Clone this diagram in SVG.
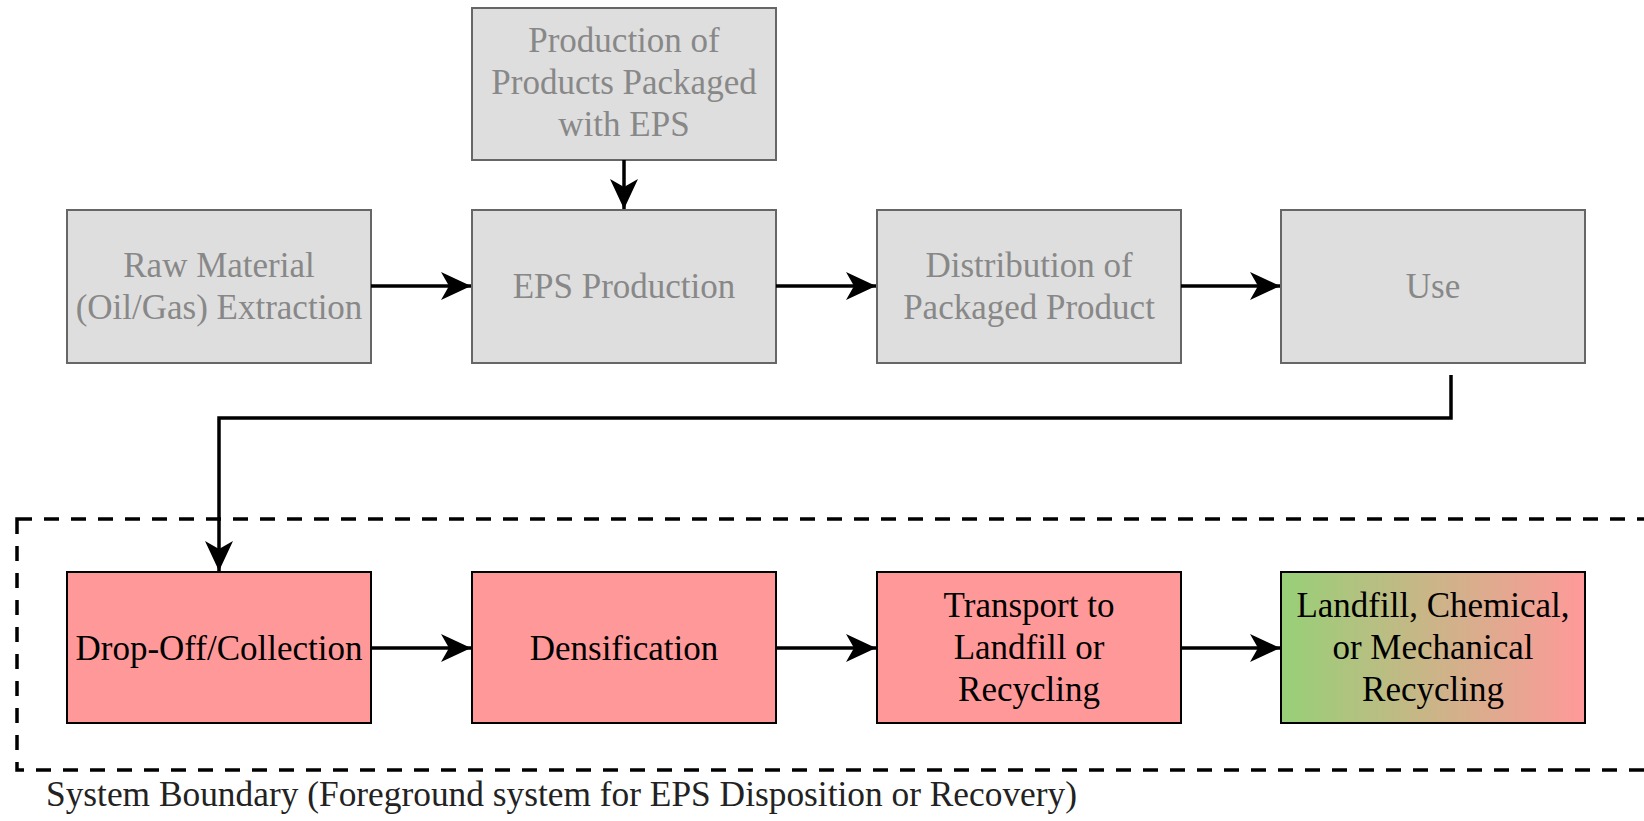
<svg xmlns="http://www.w3.org/2000/svg" width="1644" height="821" viewBox="0 0 1644 821">
<style>
.t{font-family:"Liberation Serif","Times New Roman",serif;font-size:35px;text-anchor:middle}
.g rect{fill:#dedede;stroke:#666;stroke-width:2}
.g text{fill:#888}
.r rect{stroke:#000;stroke-width:2}
.r text{fill:#000}
.c{fill:none;stroke:#000;stroke-width:3.5}
</style>
<defs>
<marker id="ah" markerUnits="userSpaceOnUse" markerWidth="32" markerHeight="32" viewBox="0 0 32 32" refX="31" refY="16" orient="auto">
<path d="M1,2 L31,16 L1,30 L9,16 Z" fill="#000"/>
</marker>
<linearGradient id="gr" x1="0" y1="0" x2="1" y2="0">
<stop offset="0" stop-color="#97d077"/>
<stop offset="1" stop-color="#ff9999"/>
</linearGradient>
</defs>
<rect x="17" y="519" width="1660" height="251" fill="none" stroke="#000" stroke-width="3.5" stroke-dasharray="15 12"/>
<text class="t" x="46" y="806" textLength="1031" lengthAdjust="spacingAndGlyphs" style="text-anchor:start;fill:#222">System Boundary (Foreground system for EPS Disposition or Recovery)</text>
<g id="n-prod" class="g"><rect x="472" y="8" width="304" height="152"/><text class="t" x="624" y="52">Production of</text><text class="t" x="624" y="94">Products Packaged</text><text class="t" x="624" y="136">with EPS</text></g>
<g id="n-raw" class="g"><rect x="67" y="210" width="304" height="153"/><text class="t" x="219" y="277">Raw Material</text><text class="t" x="219" y="319">(Oil/Gas) Extraction</text></g>
<g id="n-eps" class="g"><rect x="472" y="210" width="304" height="153"/><text class="t" x="624" y="298">EPS Production</text></g>
<g id="n-dist" class="g"><rect x="877" y="210" width="304" height="153"/><text class="t" x="1029" y="277">Distribution of</text><text class="t" x="1029" y="319">Packaged Product</text></g>
<g id="n-use" class="g"><rect x="1281" y="210" width="304" height="153"/><text class="t" x="1433" y="298">Use</text></g>
<g id="n-drop" class="r"><rect x="67" y="572" width="304" height="151" fill="#ff9999"/><text class="t" x="219" y="660">Drop-Off/Collection</text></g>
<g id="n-dens" class="r"><rect x="472" y="572" width="304" height="151" fill="#ff9999"/><text class="t" x="624" y="660">Densification</text></g>
<g id="n-trans" class="r"><rect x="877" y="572" width="304" height="151" fill="#ff9999"/><text class="t" x="1029" y="617">Transport to</text><text class="t" x="1029" y="659">Landfill or</text><text class="t" x="1029" y="701">Recycling</text></g>
<g id="n-land" class="r"><rect x="1281" y="572" width="304" height="151" fill="url(#gr)"/><text class="t" x="1433" y="617">Landfill, Chemical,</text><text class="t" x="1433" y="659">or Mechanical</text><text class="t" x="1433" y="701">Recycling</text></g>
<g id="connectors">
<path class="c" d="M624,160 V209" marker-end="url(#ah)"/>
<path class="c" d="M371,286 H471" marker-end="url(#ah)"/>
<path class="c" d="M776,286 H876" marker-end="url(#ah)"/>
<path class="c" d="M1181,286 H1280" marker-end="url(#ah)"/>
<path class="c" d="M1451,375 V418 H219 V571" marker-end="url(#ah)"/>
<path class="c" d="M371,648 H471" marker-end="url(#ah)"/>
<path class="c" d="M776,648 H876" marker-end="url(#ah)"/>
<path class="c" d="M1181,648 H1280" marker-end="url(#ah)"/>
</g>
</svg>
